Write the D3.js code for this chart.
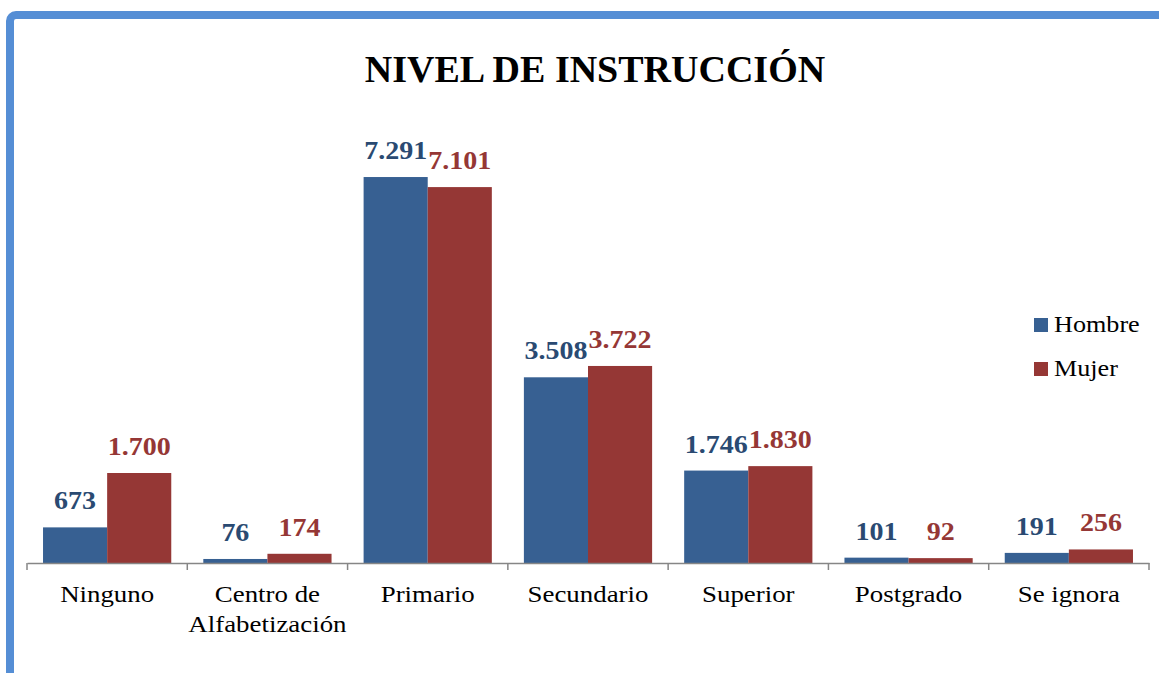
<!DOCTYPE html>
<html>
<head>
<meta charset="utf-8">
<script src="https://cdn.jsdelivr.net/npm/d3@7"></script>
<style>
  html, body { margin: 0; padding: 0; background: #fff; }
  svg { display: block; font-family: "Liberation Serif", "Times New Roman", serif; }
</style>
</head>
<body>
<svg id="chart" width="1159" height="673"></svg>
<script>
const categories = ["Ninguno", "Centro de\nAlfabetización", "Primario", "Secundario", "Superior", "Postgrado", "Se ignora"];
const hombre = [673, 76, 7291, 3508, 1746, 101, 191];
const mujer = [1700, 174, 7101, 3722, 1830, 92, 256];
const seriesNames = ["Hombre", "Mujer"];
const barColors = ["#376092", "#953735"];
const labelColors = ["#2a4a72", "#953735"];

const locale = d3.formatLocale({ decimal: ",", thousands: ".", grouping: [3], currency: ["", ""] });
const fmt = locale.format(",d");

// the reference text is a bit wider than the font, so stretch it horizontally
const stretch = 1.12;

const svg = d3.select("#chart");

// Frame (only top/left visible)
svg.append("rect")
  .attr("x", 10).attr("y", 15)
  .attr("width", 1300).attr("height", 800)
  .attr("rx", 6)
  .attr("fill", "none")
  .attr("stroke", "#558ed5")
  .attr("stroke-width", 8);

// Title
svg.append("text")
  .attr("x", 595).attr("y", 82)
  .attr("text-anchor", "middle")
  .style("font-size", "38px")
  .style("font-weight", "bold")
  .text("NIVEL DE INSTRUCCIÓN");

const data = categories.map((c, i) => ({ category: c, values: [hombre[i], mujer[i]] }));

const x0 = d3.scaleBand().domain(categories).range([27, 1149]).paddingInner(0.2).paddingOuter(0.1);
const x1 = d3.scaleBand().domain(seriesNames).range([0, x0.bandwidth()]);
const y = d3.scaleLinear().domain([0, 8000]).range([563, 139.5]);

// Bars
const groups = svg.append("g").selectAll("g")
  .data(data)
  .join("g")
  .attr("transform", d => `translate(${x0(d.category)},0)`);

const cells = d => d.values.map((v, i) => ({ name: seriesNames[i], value: v, i }));

groups.selectAll("rect")
  .data(cells)
  .join("rect")
  .attr("x", d => x1(d.name))
  .attr("y", d => y(d.value))
  .attr("width", x1.bandwidth())
  .attr("height", d => y(0) - y(d.value))
  .attr("fill", d => barColors[d.i]);

groups.selectAll("text")
  .data(cells)
  .join("text")
  .attr("transform", d => `translate(${x1(d.name) + x1.bandwidth() / 2},${y(d.value) - 18}) scale(${stretch},1)`)
  .attr("text-anchor", "middle")
  .attr("fill", d => labelColors[d.i])
  .style("font-size", "25px")
  .style("font-weight", "bold")
  .text(d => fmt(d.value));

// Axis
const axis = svg.append("g")
  .attr("transform", `translate(0,${y(0)})`)
  .call(d3.axisBottom(x0).tickSize(0).tickSizeOuter(0).tickPadding(0));
axis.select(".domain").attr("stroke", "#868686").attr("stroke-width", 1.5);
axis.selectAll(".tick text").each(function (d) {
  const t = d3.select(this);
  const lines = d.split("\n");
  t.text(null)
    .attr("fill", "#000")
    .attr("dy", null)
    .attr("y", null)
    .attr("transform", `scale(${stretch},1)`)
    .style("font-size", "24px")
    .style("font-family", "'Liberation Serif', 'Times New Roman', serif");
  lines.forEach((line, k) => {
    t.append("tspan").attr("x", 0).attr("y", 39 + k * 30).text(line);
  });
});

// Tick marks between categories
const boundaries = d3.range(categories.length + 1).map(k => x0.range()[0] + k * (x0.range()[1] - x0.range()[0]) / categories.length);
axis.selectAll(".sep")
  .data(boundaries)
  .join("line")
  .attr("class", "sep")
  .attr("x1", d => d).attr("x2", d => d)
  .attr("y1", 0).attr("y2", 7)
  .attr("stroke", "#868686")
  .attr("stroke-width", 1.5);

// Legend
const legend = svg.append("g").attr("transform", "translate(1034,318)");
const items = legend.selectAll("g")
  .data(seriesNames)
  .join("g")
  .attr("transform", (d, i) => `translate(0,${i * 44})`);
items.append("rect")
  .attr("width", 14).attr("height", 14)
  .attr("fill", (d, i) => barColors[i]);
items.append("text")
  .attr("transform", `translate(20,14) scale(1.09,1)`)
  .style("font-size", "24px")
  .text(d => d);
</script>
</body>
</html>
